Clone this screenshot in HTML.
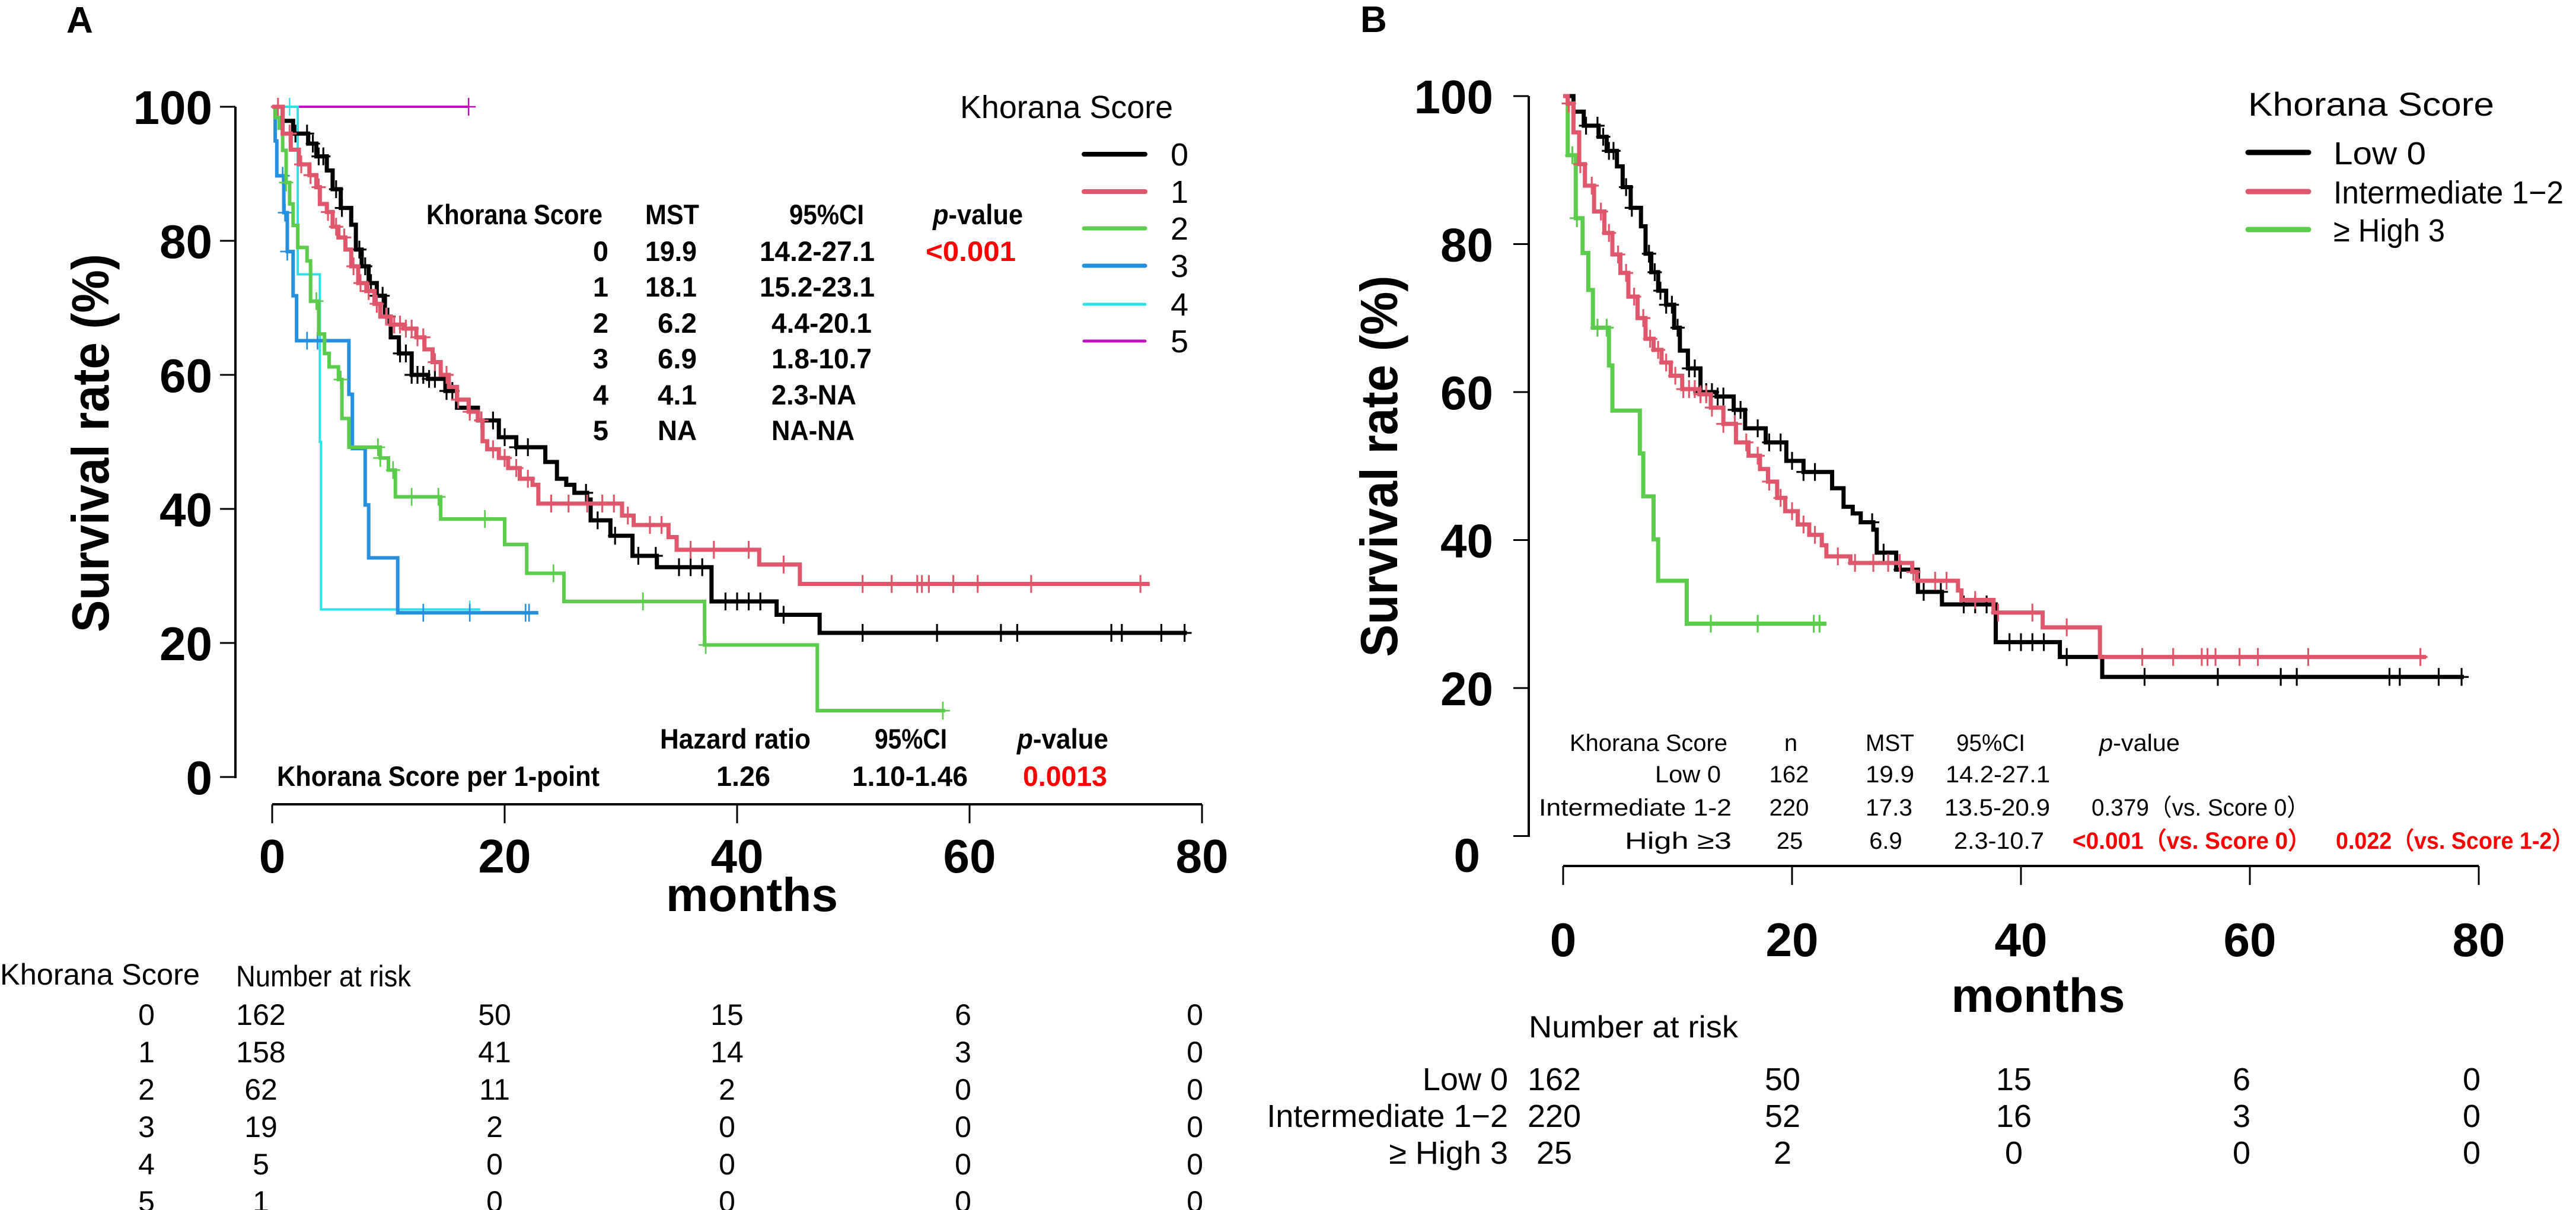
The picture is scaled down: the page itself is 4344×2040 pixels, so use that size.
<!DOCTYPE html>
<html><head><meta charset="utf-8"><style>
html,body{margin:0;padding:0;background:#fff;}
svg{display:block;}
text{font-family:"Liberation Sans",sans-serif;}
.b{font-weight:bold;}
</style></head><body>
<svg id="fig" width="4344" height="2040" viewBox="0 0 4344 2040" xmlns="http://www.w3.org/2000/svg">
<rect width="4344" height="2040" fill="#fff"/>
<g id="panelA">
<text x="112" y="55" class="b" font-size="62">A</text>
<text transform="translate(183,747) rotate(-90)" text-anchor="middle" class="b" font-size="88" textLength="638" lengthAdjust="spacingAndGlyphs">Survival rate (%)</text>
<text x="1268" y="1536" text-anchor="middle" class="b" font-size="80" textLength="290" lengthAdjust="spacingAndGlyphs">months</text>
<g class="b" font-size="47">
<text x="719" y="378" textLength="297" lengthAdjust="spacingAndGlyphs">Khorana Score</text>
<text x="1088" y="378" textLength="91" lengthAdjust="spacingAndGlyphs">MST</text>
<text x="1331" y="378" textLength="126" lengthAdjust="spacingAndGlyphs">95%CI</text>
<text x="1573" y="378" textLength="152" lengthAdjust="spacingAndGlyphs"><tspan font-style="italic">p</tspan>-value</text>
</g>
<g class="b" font-size="54">
<text x="1619" y="199" font-weight="normal" textLength="359" lengthAdjust="spacingAndGlyphs">Khorana  Score</text>
</g>
<g class="b" font-size="47">
<text x="1113" y="1262" textLength="254" lengthAdjust="spacingAndGlyphs">Hazard ratio</text>
<text x="1475" y="1262" textLength="122" lengthAdjust="spacingAndGlyphs">95%CI</text>
<text x="1715" y="1262" textLength="154" lengthAdjust="spacingAndGlyphs"><tspan font-style="italic">p</tspan>-value</text>
<text x="467" y="1325" textLength="544" lengthAdjust="spacingAndGlyphs">Khorana Score per 1-point</text>
<text x="1208" y="1325" textLength="91" lengthAdjust="spacingAndGlyphs">1.26</text>
<text x="1437" y="1325" textLength="195" lengthAdjust="spacingAndGlyphs">1.10-1.46</text>
<text x="1725" y="1325" fill="#ff0000" textLength="142" lengthAdjust="spacingAndGlyphs">0.0013</text>
</g>
<g font-size="50">
<text x="0" y="1660" textLength="337" lengthAdjust="spacingAndGlyphs">Khorana Score</text>
<text x="398" y="1663" textLength="295" lengthAdjust="spacingAndGlyphs">Number at risk</text>
</g>
</g>
<g id="panelB">
<text x="2294" y="54" class="b" font-size="62">B</text>
<text transform="translate(2356,786) rotate(-90)" text-anchor="middle" class="b" font-size="88" textLength="643" lengthAdjust="spacingAndGlyphs">Survival rate (%)</text>
<text x="3437" y="1706" text-anchor="middle" class="b" font-size="81" textLength="293" lengthAdjust="spacingAndGlyphs">months</text>
<text x="3791" y="195" font-size="56" textLength="415" lengthAdjust="spacingAndGlyphs">Khorana  Score</text>
<g font-size="40">
<text x="2647" y="1266" textLength="266" lengthAdjust="spacingAndGlyphs">Khorana Score</text>
<text x="3020" y="1266" text-anchor="middle">n</text>
<text x="3146" y="1266" textLength="82" lengthAdjust="spacingAndGlyphs">MST</text>
<text x="3299" y="1266" textLength="116" lengthAdjust="spacingAndGlyphs">95%CI</text>
<text x="3540" y="1266" textLength="136" lengthAdjust="spacingAndGlyphs"><tspan font-style="italic">p</tspan>-value</text>
<text x="2902" y="1319" text-anchor="end" textLength="111" lengthAdjust="spacingAndGlyphs">Low 0</text>
<text x="3017" y="1319" text-anchor="middle">162</text>
<text x="3146" y="1319" textLength="82" lengthAdjust="spacingAndGlyphs">19.9</text>
<text x="3281" y="1319" textLength="176" lengthAdjust="spacingAndGlyphs">14.2-27.1</text>
<text x="2920" y="1375" text-anchor="end" textLength="325" lengthAdjust="spacingAndGlyphs">Intermediate  1-2</text>
<text x="3017" y="1375" text-anchor="middle">220</text>
<text x="3146" y="1375" textLength="79" lengthAdjust="spacingAndGlyphs">17.3</text>
<text x="3279" y="1375" textLength="178" lengthAdjust="spacingAndGlyphs">13.5-20.9</text>
<text x="3527" y="1375" textLength="368" lengthAdjust="spacingAndGlyphs">0.379（vs. Score 0）</text>
<text x="2920" y="1431" text-anchor="end" textLength="180" lengthAdjust="spacingAndGlyphs">High  ≥3</text>
<text x="3018" y="1431" text-anchor="middle">25</text>
<text x="3180" y="1431" text-anchor="middle">6.9</text>
<text x="3295" y="1431" textLength="152" lengthAdjust="spacingAndGlyphs">2.3-10.7</text>
<text x="3495" y="1431" fill="#ff0000" class="b" textLength="402" lengthAdjust="spacingAndGlyphs">&lt;0.001（vs. Score 0）</text>
<text x="3939" y="1431" fill="#ff0000" class="b" textLength="402" lengthAdjust="spacingAndGlyphs">0.022（vs. Score 1-2）</text>
</g>
<text x="2578" y="1749" font-size="52" textLength="353" lengthAdjust="spacingAndGlyphs">Number at risk</text>
</g>
</svg>
<script>
// ---------- data ----------
const yTicks = [0, 20, 40, 60, 80, 100];
const yTicksB = [20, 40, 60, 80, 100];
const xTicks = [0, 20, 40, 60, 80];

const tableScores = ["0","1","2","3","4","5"];
const tableMST = ["19.9","18.1","6.2","6.9","4.1","NA"];
const tableCI = ["14.2-27.1","15.2-23.1","4.4-20.1","1.8-10.7","2.3-NA","NA-NA"];

const riskRowsA = ["0","1","2","3","4","5"];
const riskA0 = [162, 50, 15, 6, 0];
const riskA1 = [158, 41, 14, 3, 0];
const riskA2 = [62, 11, 2, 0, 0];
const riskA3 = [19, 2, 0, 0, 0];
const riskA4 = [5, 0, 0, 0, 0];
const riskA5 = [1, 0, 0, 0, 0];

const riskRowsB = ["Low  0", "Intermediate 1\u22122", "\u2265 High 3"];
const riskBlow = [162, 50, 15, 6, 0];
const riskBint = [220, 52, 16, 3, 0];
const riskBhigh = [25, 2, 0, 0, 0];

// Score 0 (also "Low 0" in panel B)
const s0Times = [0.9,1.8,3.1,3.8,4.7,5.2,5.9,6.8,7.2,7.7,8.3,9.0,9.7,10.2,10.9,12.0,13.4,14.9,15.9,17.7,19.5,21.0,23.5,24.5,25.3,26.0,27.1,27.4,29.1,31.0,33.1,37.8,43.4,47.1];
const s0Surv = [97.9,96.0,94.5,92.6,90.5,87.7,84.9,82.4,78.7,76.2,73.7,71.8,68.7,65.6,63.2,60.0,59.4,57.6,55.1,53.2,50.7,49.2,47.0,44.5,43.6,42.4,41.4,38.3,36.0,33.0,31.3,26.2,24.2,21.5];
const s0End = 78.7;
const s0Cens = [2.0,3.0,3.5,4.0,4.4,5.5,6.0,7.5,8.0,8.5,9.0,9.5,10.0,11.0,11.5,12.0,12.5,13.0,13.5,14.0,15.0,15.5,17.0,18.0,19.0,20.0,21.0,22.0,27.0,28.0,29.5,31.5,33.0,35.0,36.0,37.0,39.0,40.0,41.0,42.0,44.0,50.8,57.2,62.7,64.1,72.2,73.1,76.5,78.5];

const s1Times = [0.9,1.6,2.3,3.2,3.8,4.1,4.7,5.2,5.7,6.3,6.8,7.4,8.1,8.8,9.3,10.2,11.3,12.4,13.1,13.8,14.5,15.2,15.9,16.9,17.7,18.1,18.5,19.5,20.3,21.3,22.4,22.9,30.1,31.1,34.1,34.8,41.9,45.4];
const s1Surv = [96.0,93.6,91.4,89.8,88.0,85.5,84.3,82.1,80.5,78.7,76.2,73.7,72.5,70.6,68.7,67.5,66.9,65.6,63.8,61.9,60.0,58.2,56.3,54.5,53.2,50.1,48.9,47.6,46.1,44.5,43.6,40.8,39.0,37.6,35.8,33.9,31.7,28.8];
const s1End = 75.5;
const s1Cens = [0.5,1.5,2.5,3.3,4.0,4.8,5.5,6.2,7.0,7.6,8.3,9.0,9.8,10.5,11.0,11.5,12.0,12.5,13.0,14.0,15.0,16.0,17.0,18.0,19.0,20.0,21.0,22.0,24.0,25.5,27.1,28.4,29.4,30.6,32.5,33.5,36.0,38.0,41.0,44.0,50.8,53.3,55.5,55.9,56.5,58.6,60.7,65.3,74.7];

const s2Times = [0.3,0.6,0.9,1.2,1.5,1.8,2.2,3.0,3.3,4.0,4.5,4.9,5.7,6.0,6.6,9.3,10.0,10.6,14.5,20.0,21.9,25.1,37.2,46.9];
const s2Surv = [98.4,96.8,93.5,88.7,85.5,82.3,79.0,77.0,71.0,66.1,63.2,61.2,59.3,53.5,49.2,47.6,45.8,41.8,38.5,34.7,30.4,26.2,19.7,9.9];
const s2End = 57.9;
const s2Cens = [1.2,3.8,5.9,9.1,9.3,10.4,12.0,14.3,18.3,24.2,31.9,37.3,57.7];

const s3Times = [0.26,0.4,1.0,1.3,1.8,2.1,6.6,6.9,8.0,8.3,10.8];
const s3Surv = [94.9,89.7,84.2,78.4,71.8,65.1,57.1,49.0,40.6,32.7,24.5];
const s3End = 22.9;
const s3Cens = [0.9,1.1,1.3,3.0,3.9,13.0,17.0,21.8,22.1];

const s4Times = [2.2,4.1,4.2];
const s4Surv = [75,50,25];
const s4End = 17.9;
const s4Cens = [1.5,17.0];

const s5Times = [];
const s5Surv = [];
const s5End = 16.9;
const s5Cens = [16.9];

const intTimes = [0.4,0.9,1.4,1.9,2.7,3.6,4.3,5.0,5.7,6.5,7.2,7.9,8.6,9.4,10.4,11.9,12.9,14.0,15.1,16.2,17.2,17.9,18.7,19.4,20.5,21.5,22.6,23.0,25.1,30.5,30.9,34.5,34.8,37.6,41.9,46.9];
const intSurv = [99.0,95.1,90.8,87.9,84.4,81.5,78.6,76.1,72.9,70.0,67.2,65.7,64.0,62.2,60.4,59.7,57.9,55.7,53.2,51.4,49.6,47.9,45.7,43.9,42.1,40.7,39.3,37.8,36.9,35.7,34.5,33.2,31.9,30.2,28.2,24.2];
const intEnd = 75.4;
const intCens = [0.5,1.5,2.5,3.3,4.0,4.8,5.5,6.2,7.0,7.6,8.3,9.0,9.8,10.5,11.0,11.5,12.0,12.5,13.0,14.0,15.0,16.0,17.0,18.0,19.0,20.0,21.0,22.0,24.0,25.5,27.1,28.4,29.4,30.6,32.5,33.5,36.0,38.0,41.0,44.0,50.6,53.3,55.8,56.3,57.0,59.1,60.7,65.1,74.9];

const highTimes = [0.4,1.1,1.7,2.2,2.6,4.0,4.3,6.7,7.0,7.9,8.3,10.8];
const highSurv = [92.0,83.5,78.8,73.8,68.7,63.6,57.5,51.7,45.9,40.1,34.5,28.7];
const highEnd = 23.0;
const highCens = [0.8,1.2,3.0,3.8,12.9,17.0,21.9,22.4];

// ---------- drawing ----------
const NS = "http://www.w3.org/2000/svg";
const svg = document.getElementById("fig");
const gA = document.getElementById("panelA");
const gB = document.getElementById("panelB");
function mk(tag, parent){ const e = document.createElementNS(NS, tag); parent.appendChild(e); return e; }

const xA = t => 459 + t * 392 / 20;
const yA = s => 1310 - s * 11.3;
const xB = t => 2636 + t * 386 / 20;
const yB = s => 1409.5 - s * 12.475;

function axes(g, xs, ys, yt, xAxisY, yAxisX, yTop, yBot, prefix, lblRight){
  const yl = mk("line", g);
  yl.setAttribute("x1", yAxisX); yl.setAttribute("x2", yAxisX); yl.setAttribute("y1", yTop); yl.setAttribute("y2", yBot);
  yl.setAttribute("stroke", "#000"); yl.setAttribute("stroke-width", 4);
  
  
  yt.forEach(v => {
    const tk = mk("line", g);
    tk.setAttribute("x1", yAxisX - 26); tk.setAttribute("x2", yAxisX); tk.setAttribute("y1", ys(v)); tk.setAttribute("y2", ys(v));
    tk.setAttribute("stroke", "#000"); tk.setAttribute("stroke-width", 3);
    
    
    const tl = mk("text", g);
    tl.setAttribute("x", lblRight); tl.setAttribute("y", ys(v) + 29);
    tl.setAttribute("text-anchor", "end"); tl.setAttribute("font-size", 80); tl.setAttribute("font-weight", "bold");
    tl.textContent = v;
    
    
  });
  const xl = mk("line", g);
  xl.setAttribute("x1", xs(0)); xl.setAttribute("x2", xs(80)); xl.setAttribute("y1", xAxisY); xl.setAttribute("y2", xAxisY);
  xl.setAttribute("stroke", "#000"); xl.setAttribute("stroke-width", 4);
  
  
  xTicks.forEach(v => {
    const tk = mk("line", g);
    tk.setAttribute("x1", xs(v)); tk.setAttribute("x2", xs(v)); tk.setAttribute("y1", xAxisY); tk.setAttribute("y2", xAxisY + 32);
    tk.setAttribute("stroke", "#000"); tk.setAttribute("stroke-width", 3);
    
    
  });
}
axes(gA, xA, yA, yTicks, 1356, 397, 180, 1312, "a", 358);
axes(gB, xB, yB, yTicksB, 1460, 2578, 162, 1411, "b", 2518);
xTicks.forEach(v => {
  const la = mk("text", gA);
  la.setAttribute("x", xA(v)); la.setAttribute("y", 1471); la.setAttribute("text-anchor", "middle");
  la.setAttribute("font-size", 80); la.setAttribute("font-weight", "bold"); la.textContent = v;
  
  
  const lb = mk("text", gB);
  lb.setAttribute("x", xB(v)); lb.setAttribute("y", 1612); lb.setAttribute("text-anchor", "middle");
  lb.setAttribute("font-size", 80); lb.setAttribute("font-weight", "bold"); lb.textContent = v;
  
  
});
// B y=0 tick and label (axis continues to 0)
{
  const tk = mk("line", gB);
  tk.setAttribute("x1", 2552); tk.setAttribute("x2", 2578); tk.setAttribute("y1", yB(0)); tk.setAttribute("y2", yB(0));
  tk.setAttribute("stroke", "#000"); tk.setAttribute("stroke-width", 3);
  
  
  const tl = mk("text", gB);
  tl.setAttribute("x", 2496); tl.setAttribute("y", yB(0) + 60); tl.setAttribute("text-anchor", "end");
  tl.setAttribute("font-size", 80); tl.setAttribute("font-weight", "bold"); tl.textContent = "0";
  
  
}

function survAt(times, surv, t){ let s = 100; for (let i = 0; i < times.length; i++) { if (times[i] <= t) s = surv[i]; } return s; }

function km(g, xs, ys, times, surv, end, cens, color, w, name){
  let d = "M" + xs(0) + " " + ys(100);
  let s = 100;
  for (let i = 0; i < times.length; i++) {
    d += " H" + xs(times[i]) + " V" + ys(surv[i]);
    s = surv[i];
  }
  d += " H" + xs(end);
  const p = mk("path", g);
  p.setAttribute("d", d); p.setAttribute("fill", "none"); p.setAttribute("stroke", color);
  p.setAttribute("stroke-width", w); p.setAttribute("stroke-linejoin", "miter");
  
  
  cens.forEach(t => {
    const cy = ys(survAt(times, surv, t));
    const c = mk("path", g);
    c.setAttribute("d", "M" + (xs(t) - 12) + " " + cy + " H" + (xs(t) + 12) + " M" + xs(t) + " " + (cy - 15) + " V" + (cy + 15));
    c.setAttribute("stroke", color); c.setAttribute("stroke-width", Math.max(2.5, w * 0.45)); c.setAttribute("fill", "none");
    
    
  });
}
const COL = {k:"#000000", r:"#e0566a", g:"#5ccc4c", b:"#2590e0", c:"#2ee0e8", m:"#c010c0"};
km(gA, xA, yA, s5Times, s5Surv, s5End, s5Cens, COL.m, 4, "score-5");
km(gA, xA, yA, s4Times, s4Surv, s4End, s4Cens, COL.c, 4, "score-4");
km(gA, xA, yA, s3Times, s3Surv, s3End, s3Cens, COL.b, 6, "score-3");
km(gA, xA, yA, s2Times, s2Surv, s2End, s2Cens, COL.g, 6, "score-2");
km(gA, xA, yA, s0Times, s0Surv, s0End, s0Cens, COL.k, 7, "score-0");
km(gA, xA, yA, s1Times, s1Surv, s1End, s1Cens, COL.r, 7, "score-1");

km(gB, xB, yB, highTimes, highSurv, highEnd, highCens, COL.g, 7, "high-3");
km(gB, xB, yB, s0Times, s0Surv, s0End, s0Cens, COL.k, 7, "low-0");
km(gB, xB, yB, intTimes, intSurv, intEnd, intCens, COL.r, 7, "intermediate-1-2");

// legend A
const legColsA = [COL.k, COL.r, COL.g, COL.b, COL.c, COL.m];
const legRowsA = [260, 323, 385, 448, 513, 575];
const legWA = [8, 8, 7, 7, 5, 5];
tableScores.forEach((sc, i) => {
  const l = mk("line", gA);
  l.setAttribute("x1", 1828); l.setAttribute("x2", 1931); l.setAttribute("y1", legRowsA[i]); l.setAttribute("y2", legRowsA[i]);
  l.setAttribute("stroke", legColsA[i]); l.setAttribute("stroke-width", legWA[i]); l.setAttribute("stroke-linecap", "round");
  
  
  const t = mk("text", gA);
  t.setAttribute("x", 1989); t.setAttribute("y", legRowsA[i] + 19); t.setAttribute("text-anchor", "middle");
  t.setAttribute("font-size", 54); t.textContent = sc;
  
  
});

// MST table A rows
const rowYA = [440, 500, 561, 621, 682, 742];
const ciStartA = [1281, 1281, 1301, 1301, 1301, 1301];
const ciWA = [194, 194, 169, 169, 143, 140];
tableScores.forEach((sc, i) => {
  const a = mk("text", gA);
  a.setAttribute("x", 1026); a.setAttribute("y", rowYA[i]); a.setAttribute("text-anchor", "end");
  a.setAttribute("font-size", 47); a.setAttribute("font-weight", "bold"); a.textContent = sc;
  
  
  const m = mk("text", gA);
  m.setAttribute("x", 1175); m.setAttribute("y", rowYA[i]); m.setAttribute("text-anchor", "end");
  m.setAttribute("font-size", 47); m.setAttribute("font-weight", "bold"); m.textContent = tableMST[i];
  m.setAttribute("textLength", tableMST[i].length >= 4 ? 87 : 66); m.setAttribute("lengthAdjust", "spacingAndGlyphs");
  
  
  const c = mk("text", gA);
  c.setAttribute("x", ciStartA[i]); c.setAttribute("y", rowYA[i]);
  c.setAttribute("font-size", 47); c.setAttribute("font-weight", "bold"); c.textContent = tableCI[i];
  c.setAttribute("textLength", ciWA[i]); c.setAttribute("lengthAdjust", "spacingAndGlyphs");
  
  
});
{
  const p = mk("text", gA);
  p.setAttribute("x", 1561); p.setAttribute("y", rowYA[0]); p.setAttribute("fill", "#ff0000");
  p.setAttribute("font-size", 47); p.setAttribute("font-weight", "bold"); p.textContent = "<0.001";
  p.setAttribute("textLength", 152); p.setAttribute("lengthAdjust", "spacingAndGlyphs");
  
  
}

// risk table A
const riskA = [riskA0, riskA1, riskA2, riskA3, riskA4, riskA5];
const riskColsA = [440, 834, 1226, 1624, 2015];
const riskRowYA = [1728, 1791, 1854, 1917, 1980, 2043];
riskRowsA.forEach((lab, i) => {
  const t = mk("text", gA);
  t.setAttribute("x", 247); t.setAttribute("y", riskRowYA[i]); t.setAttribute("text-anchor", "middle");
  t.setAttribute("font-size", 50); t.textContent = lab;
  
  
  riskA[i].forEach((v, j) => {
    const n = mk("text", gA);
    n.setAttribute("x", riskColsA[j]); n.setAttribute("y", riskRowYA[i]); n.setAttribute("text-anchor", "middle");
    n.setAttribute("font-size", 50); n.textContent = v;
    
    
  });
});

// legend B
const legRowsB = [257, 323, 387];
const legColsB = [COL.k, COL.r, COL.g];
const legTxtB = ["Low   0", "Intermediate 1\u22122", "\u2265 High 3"];
const legWB = [156, 388, 188];
legTxtB.forEach((s, i) => {
  const l = mk("line", gB);
  l.setAttribute("x1", 3791); l.setAttribute("x2", 3893); l.setAttribute("y1", legRowsB[i]); l.setAttribute("y2", legRowsB[i]);
  l.setAttribute("stroke", legColsB[i]); l.setAttribute("stroke-width", 9); l.setAttribute("stroke-linecap", "round");
  
  
  const t = mk("text", gB);
  t.setAttribute("x", 3935); t.setAttribute("y", legRowsB[i] + 20);
  t.setAttribute("font-size", 54); t.textContent = s;
  t.setAttribute("textLength", legWB[i]); t.setAttribute("lengthAdjust", "spacingAndGlyphs");
  
  
});

// risk table B
const riskB = [riskBlow, riskBint, riskBhigh];
const riskColsB = [2621, 3006, 3396, 3780, 4168];
const riskRowYB = [1838, 1900, 1962];
riskRowsB.forEach((lab, i) => {
  const t = mk("text", gB);
  t.setAttribute("x", 2543); t.setAttribute("y", riskRowYB[i]); t.setAttribute("text-anchor", "end");
  t.setAttribute("font-size", 54); t.textContent = lab;
  
  
  riskB[i].forEach((v, j) => {
    const n = mk("text", gB);
    n.setAttribute("x", riskColsB[j]); n.setAttribute("y", riskRowYB[i]); n.setAttribute("text-anchor", "middle");
    n.setAttribute("font-size", 54); n.textContent = v;
    
    
  });
});
</script>
</body></html>
